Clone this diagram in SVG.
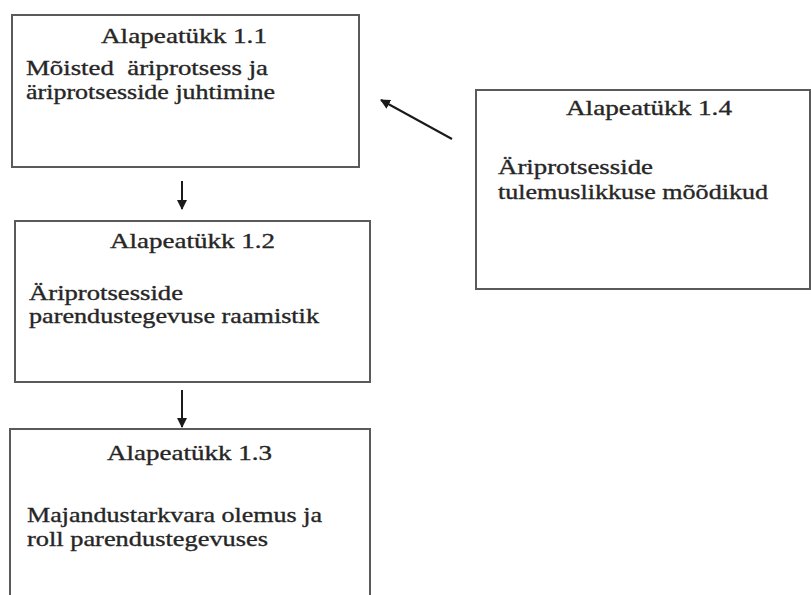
<svg xmlns="http://www.w3.org/2000/svg" width="811" height="595" viewBox="0 0 811 595">
  <style>
    .box { fill: #ffffff; stroke: #5a5a5a; stroke-width: 2; }
    .t { font-size: 22px; fill: #262626; stroke: #262626; stroke-width: 0.35; white-space: pre; }
    .edge { stroke: #1a1a1a; stroke-width: 2; fill: none; marker-end: url(#head); }
  </style>
  <defs>
    <marker id="head" viewBox="0 0 10 10" refX="9" refY="5" markerWidth="5" markerHeight="5" orient="auto" markerUnits="strokeWidth">
      <path d="M0,0 L10,5 L0,10 Z" fill="#1a1a1a"/>
    </marker>
  </defs>
  <rect width="811" height="595" fill="#ffffff"/>

  <g font-family="Liberation Serif, serif">
  <g id="node-1-1">
    <rect class="box" x="12" y="15" width="347" height="152"/>
    <text class="t" x="101" y="43" textLength="166" lengthAdjust="spacingAndGlyphs">Alapeatükk 1.1</text>
    <text class="t" x="26" y="75" textLength="242" lengthAdjust="spacingAndGlyphs">Mõisted  äriprotsess ja</text>
    <text class="t" x="26" y="99" textLength="249" lengthAdjust="spacingAndGlyphs">äriprotsesside juhtimine</text>
  </g>

  <g id="node-1-2">
    <rect class="box" x="15" y="221" width="355" height="161"/>
    <text class="t" x="110" y="248" textLength="165" lengthAdjust="spacingAndGlyphs">Alapeatükk 1.2</text>
    <text class="t" x="29" y="300" textLength="154" lengthAdjust="spacingAndGlyphs">Äriprotsesside</text>
    <text class="t" x="29" y="323" textLength="290" lengthAdjust="spacingAndGlyphs">parendustegevuse raamistik</text>
  </g>

  <g id="node-1-3">
    <rect class="box" x="10" y="429" width="360" height="180"/>
    <text class="t" x="107" y="460" textLength="165" lengthAdjust="spacingAndGlyphs">Alapeatükk 1.3</text>
    <text class="t" x="27" y="522" textLength="295" lengthAdjust="spacingAndGlyphs">Majandustarkvara olemus ja</text>
    <text class="t" x="27" y="546" textLength="241" lengthAdjust="spacingAndGlyphs">roll parendustegevuses</text>
  </g>

  <g id="node-1-4">
    <rect class="box" x="476" y="90" width="334" height="199"/>
    <text class="t" x="566" y="115" textLength="166" lengthAdjust="spacingAndGlyphs">Alapeatükk 1.4</text>
    <text class="t" x="498" y="174" textLength="155" lengthAdjust="spacingAndGlyphs">Äriprotsesside</text>
    <text class="t" x="498" y="199" textLength="270" lengthAdjust="spacingAndGlyphs">tulemuslikkuse mõõdikud</text>
  </g>
  </g>

  <g id="connectors">
    <line class="edge" x1="182" y1="181" x2="182" y2="209"/>
    <line class="edge" x1="182" y1="390" x2="182" y2="427"/>
    <line class="edge" x1="452" y1="139" x2="381" y2="100"/>
  </g>
</svg>
